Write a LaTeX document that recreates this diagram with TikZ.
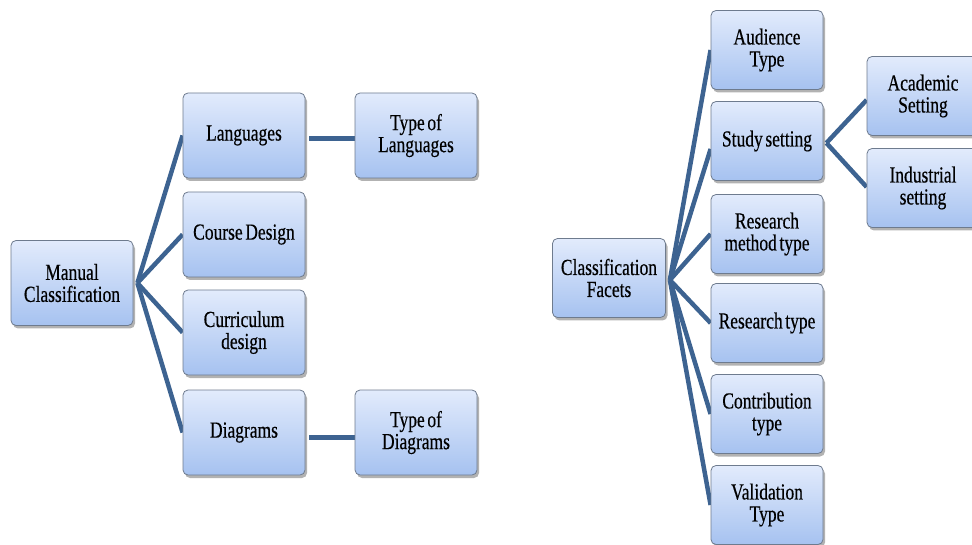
\documentclass[tikz,border=0pt]{standalone}
\usepackage{fontspec}
\setmainfont{Liberation Serif}[FakeStretch=0.76, FakeBold=0.4, WordSpace=0.6]
\usetikzlibrary{shadows,calc}

\definecolor{linkblue}{HTML}{3D6391}
\definecolor{boxtop}{HTML}{E2EBFC}
\definecolor{boxbot}{HTML}{A6C2F0}
\definecolor{boxedge}{HTML}{6E7B8E}

\pgfdeclarelayer{links}
\pgfsetlayers{links,main}

\tikzset{
  facet/.style={rectangle, rounded corners=5pt, draw=boxedge, line width=0.8pt,
    top color=boxtop, bottom color=boxbot, align=flush center, inner sep=1pt,
    font=\fontsize{23}{22}\selectfont,
    drop shadow={shadow xshift=2pt, shadow yshift=-3pt, fill=black, opacity=0.3}},
  wide/.style={facet, minimum width=122pt, minimum height=85pt, text width=118pt},
  narrow/.style={facet, minimum width=112pt, minimum height=79pt, text width=110pt},
  link/.style={draw=linkblue, line width=4.5pt},
}

\begin{document}
\begin{tikzpicture}[x=1pt, y=-1pt]
\useasboundingbox (0,0) rectangle (972,545);

% left tree
\node[wide] (mc)   at (72,283)    {Manual\\Classification};
\node[wide] (lang) at (244,135.5) {Languages};
\node[wide] (cd)   at (244,234.5) {Course Design};
\node[wide] (cur)  at (244,332.5) {Curriculum\\design};
\node[wide] (dia)  at (244,432.5) {Diagrams};
\node[wide] (tl)   at (416,135.5) {Type of\\Languages};
\node[wide] (td)   at (416,432.5) {Type of\\Diagrams};

% right tree
\node[narrow, minimum width=113pt] (cf) at (609,278) {Classification\\Facets};
\node[narrow] (aud) at (767,50)  {Audience\\Type};
\node[narrow] (ss)  at (767,141) {Study setting};
\node[narrow] (rm)  at (767,234) {Research\\method type};
\node[narrow] (rt)  at (767,323) {Research type};
\node[narrow] (ct)  at (767,414) {Contribution\\type};
\node[narrow] (vt)  at (767,505) {Validation\\Type};
\node[narrow, minimum width=110pt] (ac)  at (923,96)  {Academic\\Setting};
\node[narrow, minimum width=110pt] (ind) at (923,188) {Industrial\\setting};

% junction points just right of each parent
\coordinate (hubL) at ($(mc.east)+(4,0)$);
\coordinate (hubR) at ($(cf.east)+(4,2)$);
\coordinate (hubS) at ($(ss.east)+(3,2)$);

\begin{pgfonlayer}{links}
\foreach \c in {lang,cd,cur,dia}
  \draw[link] (hubL) -- (\c.west);
\draw[link] ($(lang.east)+(4,3)$) -- ($(tl.west)+(0,3)$);
\draw[link] ($(dia.east)+(4,5)$) -- ($(td.west)+(0,5)$);
\draw[link] (hubR) -- (aud.west);
\draw[link] (hubR) -- ($(ss.west)+(0,8)$);
\foreach \c in {rm,rt,ct,vt}
  \draw[link] (hubR) -- (\c.west);
\draw[link] (hubS) -- ($(ac.west)+(0,4)$);
\draw[link] (hubS) -- ($(ind.west)+(0,-1)$);
\end{pgfonlayer}
\end{tikzpicture}
\end{document}
